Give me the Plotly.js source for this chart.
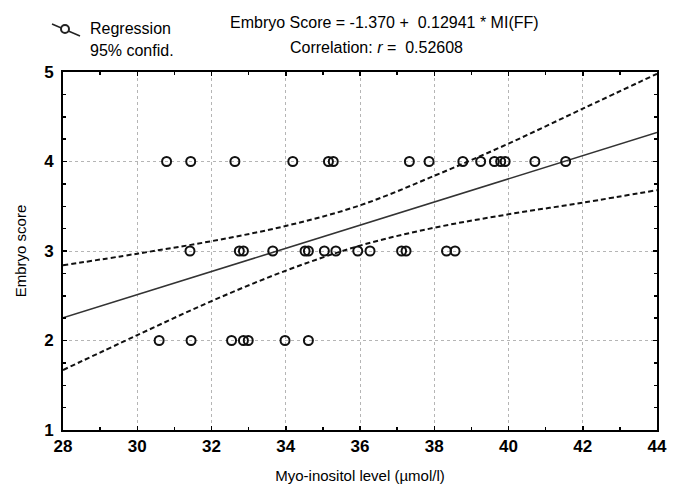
<!DOCTYPE html>
<html>
<head>
<meta charset="utf-8">
<script src="https://cdn.plot.ly/plotly-3.0.1.min.js"></script>
<style>html,body{margin:0;padding:0;background:#fff;}#chart{width:678px;height:487px;}</style>
</head>
<body>
<div id="chart"></div>
<script>
// Myo-inositol level (µmol/l) of observations, grouped by embryo score
const score4X = [30.79, 31.44, 32.63, 34.19, 35.15, 35.28, 37.33, 37.86, 38.77, 39.25, 39.62, 39.79, 39.91, 40.71, 41.54];
const score3X = [31.42, 32.75, 32.86, 33.65, 34.52, 34.61, 35.04, 35.35, 35.94, 36.27, 37.12, 37.24, 38.33, 38.56];
const score2X = [30.59, 31.45, 32.54, 32.86, 32.99, 33.98, 34.61];

// Regression line endpoints (Embryo Score = -1.370 + 0.12941 * MI)
const regX = [28, 44];
const regY = [2.253, 4.324];

// 95% confidence band
const bandX = [28, 30, 32, 34, 36, 38, 40, 42, 44];
const bandUpper = [2.84, 2.97, 3.11, 3.28, 3.51, 3.84, 4.20, 4.59, 4.98];
const bandLower = [1.67, 2.06, 2.44, 2.78, 3.06, 3.26, 3.41, 3.54, 3.68];

const xTicks = [28, 30, 32, 34, 36, 38, 40, 42, 44];
const yTicks = [1, 2, 3, 4, 5];

const FONT = '"Liberation Sans Narrow", "Arial Narrow", "Liberation Sans", Arial, sans-serif';

const ptsX = score4X.concat(score3X, score2X);
const ptsY = score4X.map(() => 4).concat(score3X.map(() => 3), score2X.map(() => 2));

const traces = [
  {x: bandX, y: bandUpper, mode: 'lines', line: {color: '#111', width: 2, dash: '5px,3px', shape: 'spline'}, hoverinfo: 'skip'},
  {x: bandX, y: bandLower, mode: 'lines', line: {color: '#111', width: 2, dash: '5px,3px', shape: 'spline'}, hoverinfo: 'skip'},
  {x: regX, y: regY, mode: 'lines', line: {color: '#333', width: 1.6}},
  {x: ptsX, y: ptsY, mode: 'markers', marker: {symbol: 'circle-open', size: 9, color: '#111', line: {width: 2, color: '#111'}}}
];

const pxX = p => (p - 63) / 594;
const pxY = p => (430 - p) / 358;

const axisCommon = {
  showline: true, linecolor: '#000', linewidth: 2, mirror: 'ticks',
  ticks: 'inside', ticklen: 4, tickcolor: '#000', tickwidth: 1.5,
  showgrid: true, gridcolor: '#b5b5b5', griddash: 'dot', gridwidth: 1,
  zeroline: false,
  tickfont: {family: FONT, size: 17, color: '#000', weight: 'bold'}
};

const layout = {
  width: 678, height: 487,
  margin: {l: 63, r: 21, t: 72, b: 57},
  paper_bgcolor: '#fff', plot_bgcolor: '#fff',
  showlegend: false,
  xaxis: Object.assign({}, axisCommon, {
    range: [28, 44], tickvals: xTicks, ticktext: xTicks.map(String),
    minor: {dtick: 1, tick0: 28, ticks: 'inside', ticklen: 3, tickcolor: '#000', showgrid: false},
    title: {text: 'Myo-inositol level (µmol/l)', font: {family: FONT, size: 15, color: '#000'}, standoff: 15}
  }),
  yaxis: Object.assign({}, axisCommon, {
    range: [1, 5], tickvals: yTicks, ticktext: yTicks.map(String),
    minor: {dtick: 0.25, tick0: 1, ticks: 'inside', ticklen: 3, tickcolor: '#000', showgrid: false},
    ticklabelstandoff: 4,
    title: {text: 'Embryo score', font: {family: FONT, size: 15, color: '#000'}, standoff: 14}
  }),
  annotations: [
    {xref: 'paper', yref: 'paper', x: pxX(384), y: pxY(22), text: 'Embryo Score = -1.370 +  0.12941 * MI(FF)', showarrow: false, xanchor: 'center', yanchor: 'middle', font: {family: FONT, size: 16, color: '#000'}},
    {xref: 'paper', yref: 'paper', x: pxX(376), y: pxY(47), text: 'Correlation: <i>r</i> =  0.52608', showarrow: false, xanchor: 'center', yanchor: 'middle', font: {family: FONT, size: 16, color: '#000'}},
    {xref: 'paper', yref: 'paper', x: pxX(88), y: pxY(28), text: 'Regression', showarrow: false, xanchor: 'left', yanchor: 'middle', font: {family: FONT, size: 16, color: '#000'}},
    {xref: 'paper', yref: 'paper', x: pxX(88), y: pxY(51), text: '95% confid.', showarrow: false, xanchor: 'left', yanchor: 'middle', font: {family: FONT, size: 16, color: '#000'}}
  ],
  shapes: [
    {type: 'line', xref: 'paper', yref: 'paper', x0: pxX(52), y0: pxY(24), x1: pxX(80), y1: pxY(36), line: {color: '#222', width: 1.5}},
    {type: 'circle', xref: 'paper', yref: 'paper', x0: pxX(61), y0: pxY(25), x1: pxX(69), y1: pxY(33), fillcolor: '#fff', line: {color: '#222', width: 2}}
  ]
};

Plotly.newPlot('chart', traces, layout, {staticPlot: true, displayModeBar: false});
</script>
</body>
</html>
